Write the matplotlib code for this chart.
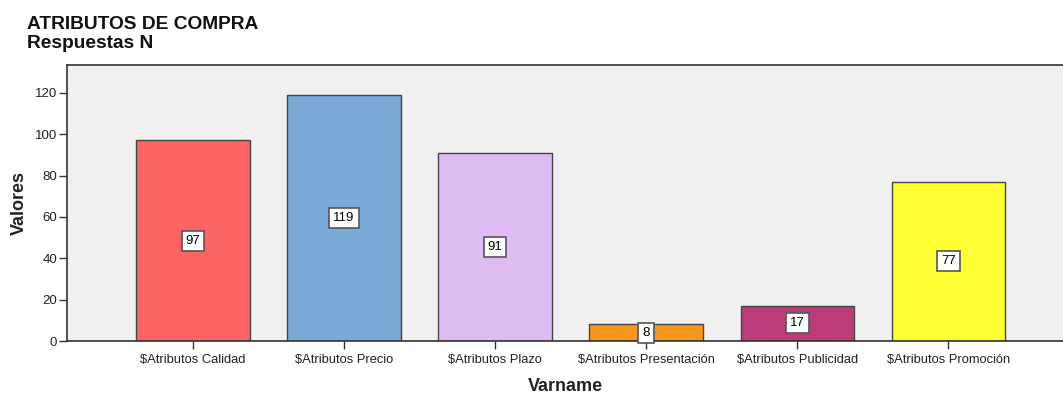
import matplotlib
matplotlib.use("Agg")
import matplotlib.pyplot as plt

plt.rcParams['font.family'] = ['Liberation Sans', 'DejaVu Sans']

categories = ["$Atributos Calidad", "$Atributos Precio", "$Atributos Plazo",
              "$Atributos Presentación", "$Atributos Publicidad", "$Atributos Promoción"]
values = [97, 119, 91, 8, 17, 77]
colors = ["#FF6464", "#79A9D6", "#DEBBF3", "#F7981E", "#BC3B79", "#FFFF33"]
yticks = [0, 20, 40, 60, 80, 100, 120]

fig = plt.figure(figsize=(10.63, 3.96), dpi=100)
ax = fig.add_axes([67 / 1063, 1 - 341 / 396, (1063 - 67) / 1063, (341 - 65) / 396])
ax.set_facecolor("#F0F0F0")

x = list(range(len(categories)))
ax.bar(x, values, width=0.75, color=colors, edgecolor="#444444", linewidth=1.0, zorder=2)

for xi, v in zip(x, values):
    ax.text(xi, v / 2, str(v), ha="center", va="center", fontsize=9.5, color="black", zorder=3,
            bbox=dict(boxstyle="square,pad=0.3", facecolor="white", edgecolor="#555555", linewidth=1.2))

ax.set_xlim(-0.834, 5.76)
ax.set_ylim(0, 133.5)
ax.set_yticks(yticks)
ax.set_xticks(x)
ax.set_xticklabels(categories, fontsize=9.3)
ax.tick_params(axis="y", labelsize=9.5, length=6, width=1, color="#333333", pad=1, labelcolor="#222222")
ax.tick_params(axis="x", length=6, width=1, color="#333333", pad=3, labelcolor="#222222")

for side in ["left", "bottom", "top"]:
    ax.spines[side].set_color("#333333")
    ax.spines[side].set_linewidth(1.2)
ax.spines["right"].set_visible(False)

ax.set_ylabel("Valores", fontsize=13, fontweight="bold", labelpad=5, color="#222222")
ax.set_xlabel("Varname", fontsize=13, fontweight="bold", labelpad=9, color="#222222")

fig.text(27 / 1063, 1 - 29 / 396, "ATRIBUTOS DE COMPRA", ha="left", va="baseline",
         fontsize=13.8, fontweight="bold", color="#111111")
fig.text(27 / 1063, 1 - 48 / 396, "Respuestas N", ha="left", va="baseline",
         fontsize=13.8, fontweight="bold", color="#111111")

fig.savefig("out.png", dpi=100)
